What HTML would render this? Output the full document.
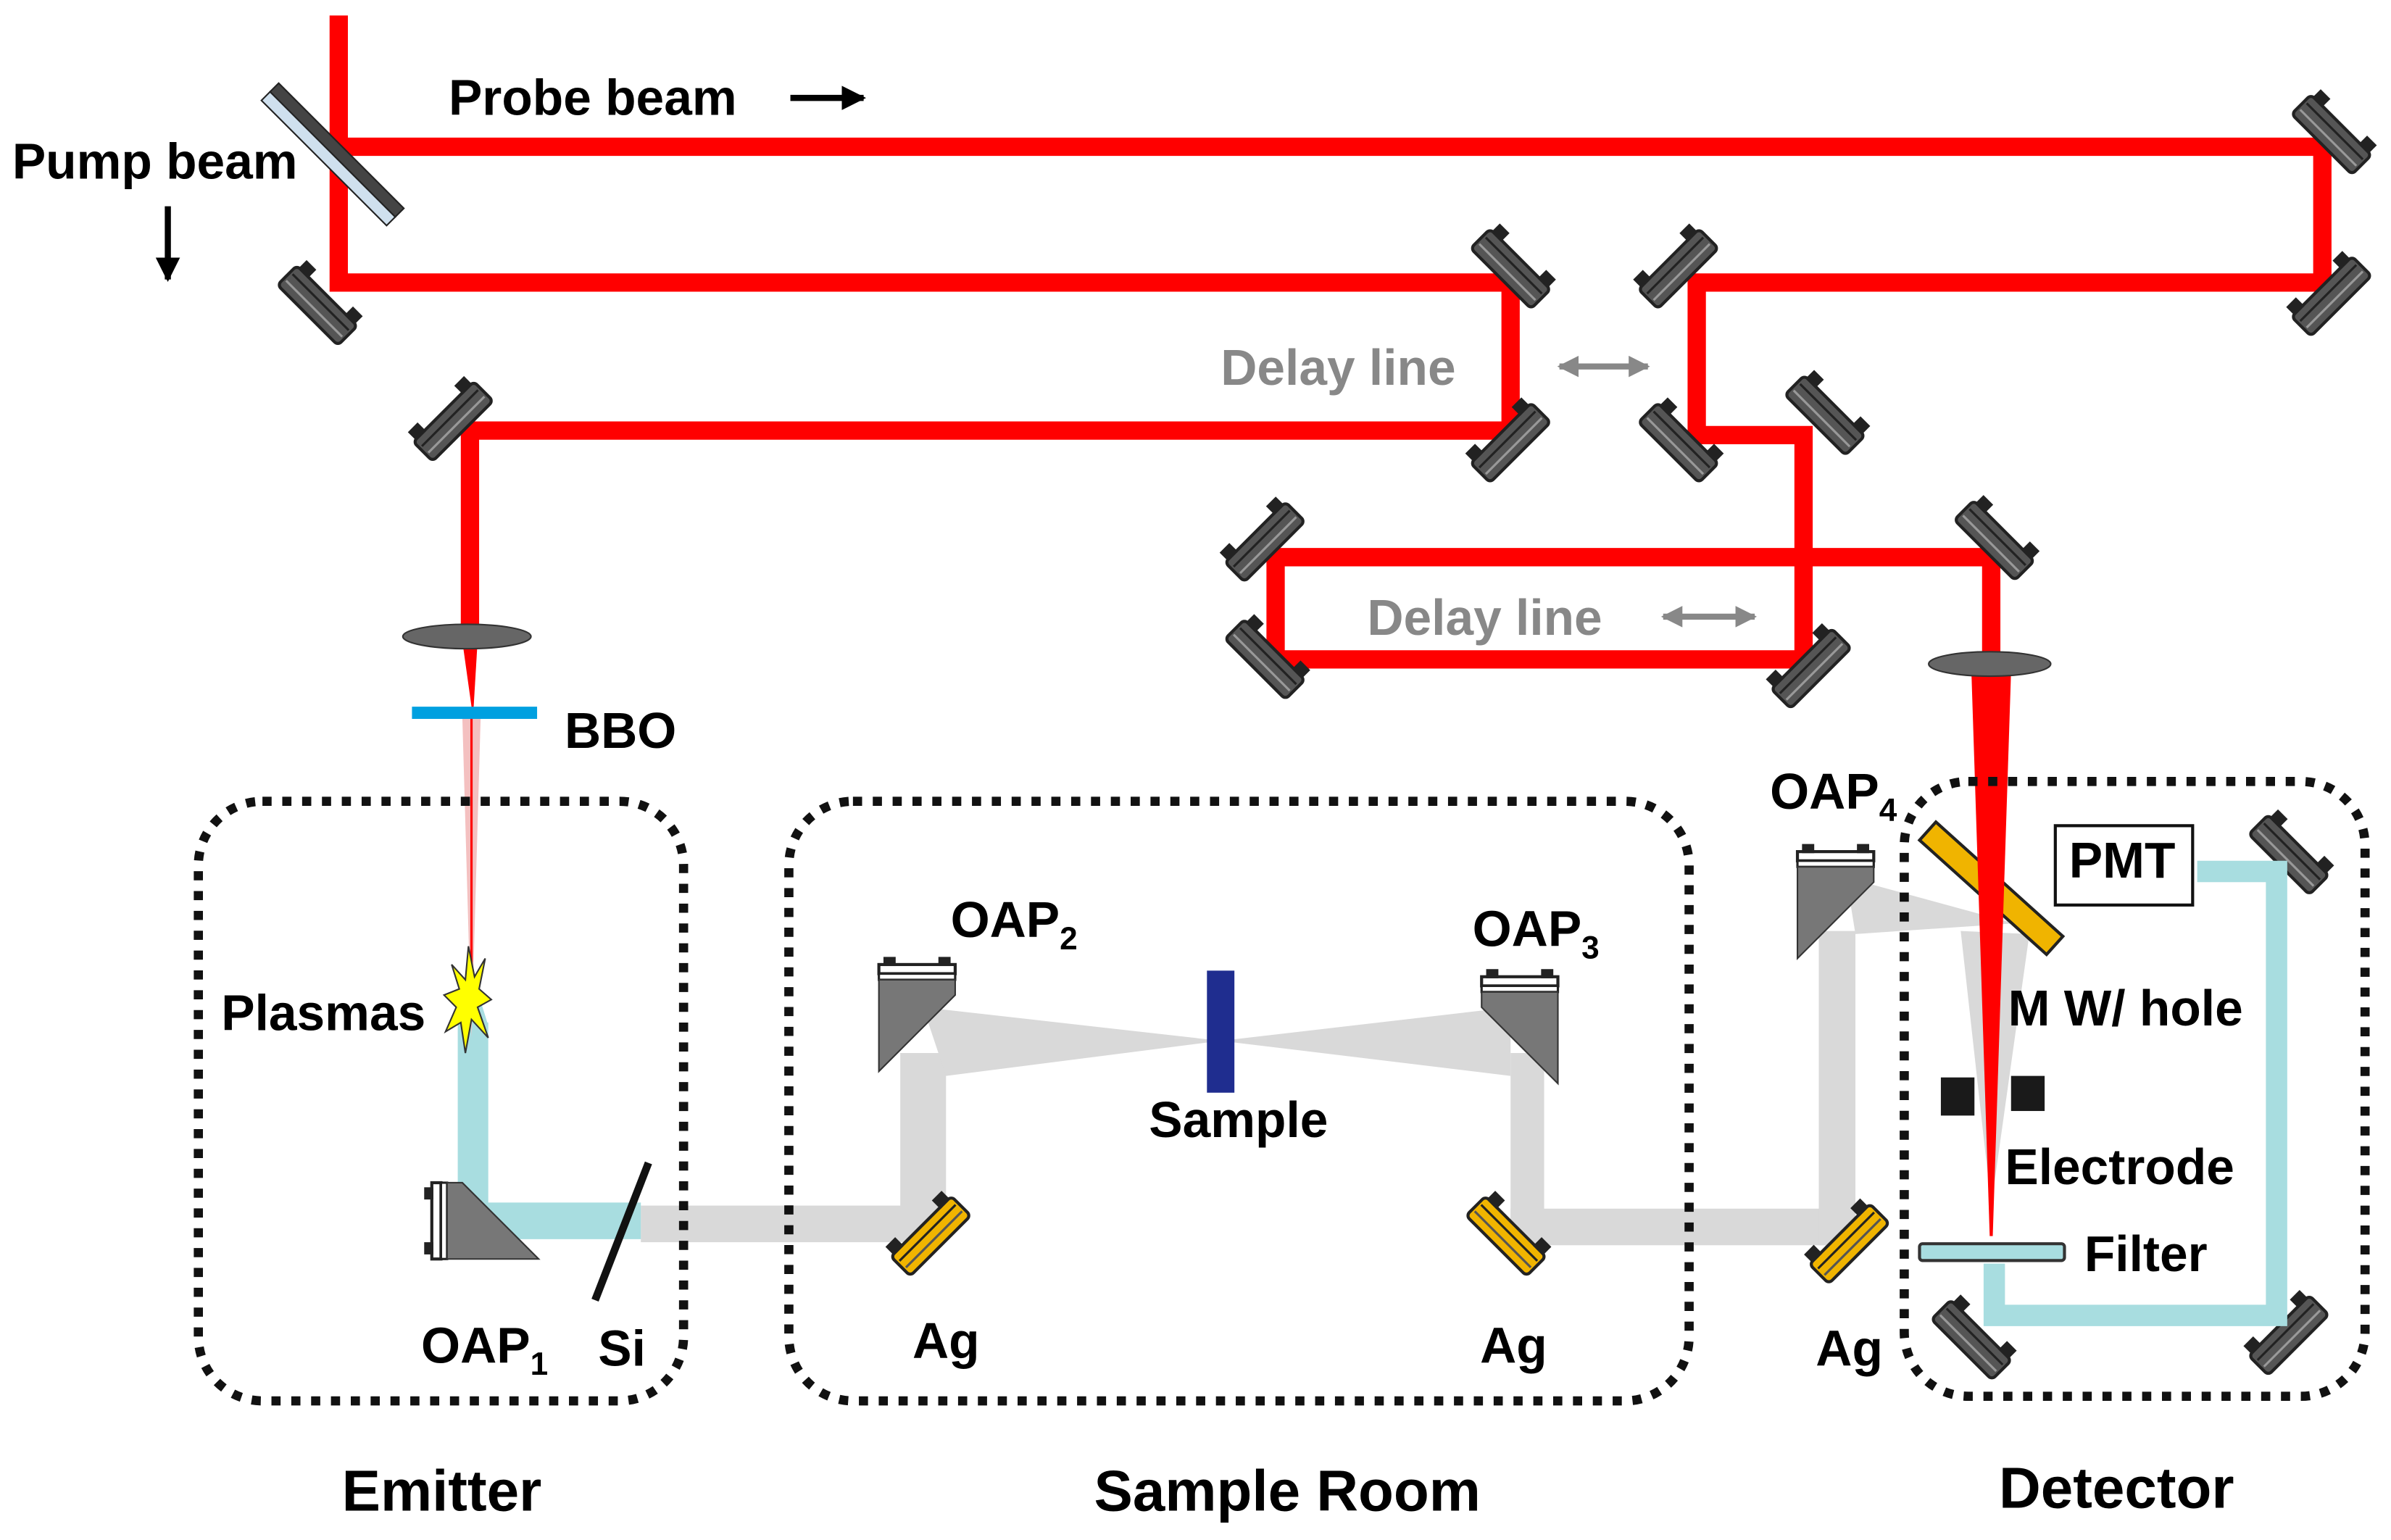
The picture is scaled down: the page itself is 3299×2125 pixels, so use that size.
<!DOCTYPE html>
<html><head><meta charset="utf-8"><style>
html,body{margin:0;padding:0;background:#fff}
svg{display:block}
text{font-family:"Liberation Sans",Arial,sans-serif;font-weight:bold}
</style></head><body>
<svg width="3299" height="2125" viewBox="0 0 1567 1009" xmlns="http://www.w3.org/2000/svg">
<defs>
<g id="m">
<rect x="-28" y="-9" width="56" height="18" rx="3" fill="#555" stroke="#222" stroke-width="2"/>
<line x1="-26" y1="-3" x2="26" y2="-3" stroke="#222" stroke-width="1.5"/>
<line x1="-26" y1="3" x2="26" y2="3" stroke="#999" stroke-width="1.5"/>
<rect x="-26" y="-16" width="9" height="8" fill="#222"/>
<rect x="17" y="-16" width="9" height="8" fill="#222"/>
</g>
<g id="ag">
<rect x="-28" y="-9" width="56" height="18" rx="3" fill="#f0b400" stroke="#222" stroke-width="2"/>
<line x1="-26" y1="-3" x2="26" y2="-3" stroke="#222" stroke-width="1.5"/>
<line x1="-26" y1="3" x2="26" y2="3" stroke="#555" stroke-width="1.5"/>
<rect x="-26" y="-16" width="9" height="8" fill="#222"/>
<rect x="17" y="-16" width="9" height="8" fill="#222"/>
</g>
<g id="oap">
<rect x="-25" y="-12" width="50" height="6" fill="#fff" stroke="#222" stroke-width="2"/>
<rect x="-22" y="-17" width="8" height="6" fill="#222"/><rect x="14" y="-17" width="8" height="6" fill="#222"/>
<rect x="-25" y="-6" width="50" height="4" fill="#fff" stroke="#222" stroke-width="1.5"/>
<path d="M-25,-2 L25,-2 L25,8 L-25,58 Z" fill="#777" stroke="#333" stroke-width="1"/>
</g>
<marker id="ar" viewBox="0 0 10 10" refX="9" refY="5" markerWidth="4" markerHeight="4" orient="auto"><path d="M0,0L10,5L0,10z" fill="#000"/></marker>
<marker id="ga" viewBox="0 0 10 10" refX="9" refY="5" markerWidth="3.5" markerHeight="3.5" orient="auto-start-reverse"><path d="M0,0L10,5L0,10z" fill="#888"/></marker>
</defs>

<!-- THz beams -->
<g fill="#d9d9d9">
<rect x="420" y="790" width="190" height="24"/>
<rect x="590" y="690" width="30" height="124"/>
<polygon points="605,660 620,705 800,682"/>
<polygon points="800,682 990,660 990,705"/>
<rect x="990" y="690" width="22" height="124"/>
<rect x="990" y="792" width="220" height="24"/>
<rect x="1192" y="610" width="24" height="206"/>
<polygon points="1210,575 1320,605 1216,612"/>
<polygon points="1285,610 1330,612 1305,790"/>
</g>
<rect x="300" y="670" width="20" height="125" fill="#a8dde0"/>
<rect x="310" y="788" width="110" height="24" fill="#a8dde0"/>
<polygon points="300,672 320,672 310,640" fill="#a8dde0"/>

<!-- red beams -->
<g stroke="#ff0000" stroke-width="12" fill="none" stroke-linejoin="miter">
<polyline points="222,10 222,185 990,185 990,282 308,282 308,420"/>
<polyline points="222,96 1522,96 1522,185 1112,185 1112,285 1182,285 1182,432 836,432 836,365 1305,365 1305,435"/>
</g>
<polygon points="303,420 313,420 310,470" fill="#ff0000"/>
<polygon points="303,470 315,470 309,680" fill="#f4c0c0"/>
<line x1="309" y1="470" x2="309" y2="640" stroke="#ff0000" stroke-width="1.5"/>

<!-- M w/ hole -->
<g transform="translate(1305,582) rotate(42)">
<rect x="-56" y="-8" width="112" height="16" fill="#f0b400" stroke="#222" stroke-width="2"/>
</g>
<polygon points="1292,440 1318,440 1306,810 1304,810" fill="#ff0000"/>

<!-- beam splitter -->
<g transform="translate(218,101) rotate(45)">
<rect x="-58" y="-8" width="116" height="8" fill="#444" stroke="#222"/>
<rect x="-58" y="0" width="116" height="8" fill="#cfe0ee" stroke="#222"/>
</g>

<!-- mirrors -->
<use href="#m" transform="translate(208,200) rotate(45)"/>
<use href="#m" transform="translate(297,276) rotate(-45)"/>
<use href="#m" transform="translate(990,176) rotate(45)"/>
<use href="#m" transform="translate(990,290) rotate(-45)"/>
<use href="#m" transform="translate(1100,176) rotate(-45)"/>
<use href="#m" transform="translate(1100,290) rotate(45)"/>
<use href="#m" transform="translate(1196,272) rotate(45)"/>
<use href="#m" transform="translate(1528,88) rotate(45)"/>
<use href="#m" transform="translate(1528,194) rotate(-45)"/>
<use href="#m" transform="translate(829,355) rotate(-45)"/>
<use href="#m" transform="translate(829,432) rotate(45)"/>
<use href="#m" transform="translate(1187,438) rotate(-45)"/>
<use href="#m" transform="translate(1307,354) rotate(45)"/>
<use href="#m" transform="translate(1500,560) rotate(45)"/>
<use href="#m" transform="translate(1292,878) rotate(45)"/>
<use href="#m" transform="translate(1500,875) rotate(-45)"/>
<use href="#ag" transform="translate(610,810) rotate(-45)"/>
<use href="#ag" transform="translate(987,810) rotate(45)"/>
<use href="#ag" transform="translate(1212,815) rotate(-45)"/>

<!-- lenses, BBO -->
<ellipse cx="306" cy="417" rx="42" ry="8" fill="#666" stroke="#333"/>
<ellipse cx="1304" cy="435" rx="40" ry="8" fill="#666" stroke="#333"/>
<rect x="270" y="463" width="82" height="8" fill="#00a0e0"/>

<!-- plasma star -->
<polygon points="307,620 311,640 318,628 314,648 322,655 313,660 320,680 309,668 305,690 302,670 292,676 299,660 291,652 301,648 296,632 305,642" fill="#ffff00" stroke="#333" stroke-width="1"/>

<!-- OAPs -->
<g transform="translate(295,800) rotate(-90)"><use href="#oap"/></g>
<use href="#oap" transform="translate(601,644)"/>
<use href="#oap" transform="translate(996,652) scale(-1,1)"/>
<use href="#oap" transform="translate(1203,570)"/>
<line x1="390" y1="852" x2="425" y2="762" stroke="#111" stroke-width="5"/>
<rect x="791" y="636" width="18" height="80" fill="#1f2d8f"/>

<!-- detector parts -->
<polyline points="1440,571 1492,571 1492,862 1307,862 1307,828" fill="none" stroke="#a8dde0" stroke-width="14"/>
<rect x="1258" y="815" width="95" height="11" rx="2" fill="#a8dde0" stroke="#333" stroke-width="2"/>
<rect x="1272" y="706" width="22" height="25" fill="#1a1a1a"/>
<rect x="1318" y="705" width="22" height="23" fill="#1a1a1a"/>
<rect x="1347" y="541" width="90" height="52" fill="#fff" stroke="#111" stroke-width="2"/>

<!-- dotted boxes -->
<g fill="none" stroke="#111" stroke-width="6" stroke-dasharray="6,7">
<rect x="130" y="525" width="318" height="393" rx="42"/>
<rect x="517" y="525" width="590" height="393" rx="42"/>
<rect x="1248" y="512" width="302" height="403" rx="42"/>
</g>

<!-- arrows -->
<line x1="518" y1="64" x2="566" y2="64" stroke="#000" stroke-width="4" marker-end="url(#ar)"/>
<line x1="110" y1="135" x2="110" y2="183" stroke="#000" stroke-width="4" marker-end="url(#ar)"/>
<line x1="1022" y1="240" x2="1080" y2="240" stroke="#888" stroke-width="4" marker-start="url(#ga)" marker-end="url(#ga)"/>
<line x1="1090" y1="404" x2="1150" y2="404" stroke="#888" stroke-width="4" marker-start="url(#ga)" marker-end="url(#ga)"/>

<!-- labels -->
<g font-size="33" fill="#000">
<text x="294" y="75">Probe beam</text>
<text x="8" y="117">Pump beam</text>
<text x="800" y="252" fill="#888">Delay line</text>
<text x="896" y="416" fill="#888">Delay line</text>
<text x="370" y="490">BBO</text>
<text x="145" y="675">Plasmas</text>
<text x="623" y="614">OAP<tspan font-size="21" dy="8">2</tspan></text>
<text x="965" y="620">OAP<tspan font-size="21" dy="8">3</tspan></text>
<text x="1160" y="530">OAP<tspan font-size="21" dy="8">4</tspan></text>
<text x="276" y="893">OAP<tspan font-size="21" dy="8">1</tspan></text>
<text x="392" y="895">Si</text>
<text x="753" y="745">Sample</text>
<text x="598" y="890">Ag</text>
<text x="970" y="893">Ag</text>
<text x="1190" y="895">Ag</text>
<text x="1356" y="575">PMT</text>
<text x="1316" y="672">M W/ hole</text>
<text x="1314" y="776">Electrode</text>
<text x="1366" y="833">Filter</text>
</g>
<g font-size="38" fill="#000">
<text x="224" y="990">Emitter</text>
<text x="717" y="990">Sample Room</text>
<text x="1310" y="988">Detector</text>
</g>
</svg>
</body></html>
